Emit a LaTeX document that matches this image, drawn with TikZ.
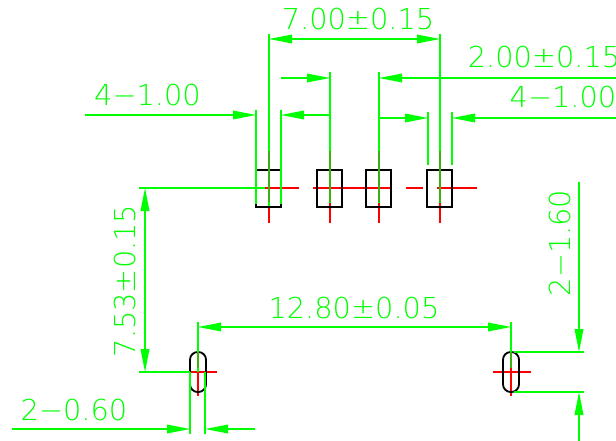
\documentclass[tikz,border=0pt]{standalone}
\usepackage{fontspec}
\setmainfont{DejaVu Sans ExtraLight}
\usetikzlibrary{arrows.meta}
\definecolor{dimgreen}{RGB}{0,255,0}
\definecolor{overgreen}{RGB}{60,176,16}
\definecolor{axisred}{RGB}{255,0,0}
\tikzset{
	dimline/.style={dimgreen,line width=0.42mm},
	extline/.style={dimgreen,line width=0.33mm},
	dimtip/.style={dimline,-{Triangle[length=6.9mm,width=2.6mm]}},
	dimboth/.style={dimline,{Triangle[length=6.9mm,width=2.6mm]}-{Triangle[length=6.9mm,width=2.6mm]}},
	axisline/.style={axisred,line width=0.33mm},
	padline/.style={black,line width=0.55mm},
	dimtext/.style={dimgreen,anchor=base,inner sep=0pt,font=\fontsize{24.6pt}{28pt}\selectfont},
}
\begin{document}
\begin{tikzpicture}[x=0.3mm,y=-0.3mm]
	\path[use as bounding box,clip] (0,0) rectangle (616,441);
	% Centre lines
	\foreach \xc in {269,330,379,440}
		\draw[axisline] (\xc,188) -- (\xc,223);
	\draw[axisline] (265,188) -- (299,188);
	\draw[axisline] (313,188) -- (392,188);
	\draw[axisline] (406,188) -- (423,188);
	\draw[axisline] (437,188) -- (477,188);
	\draw[axisline] (180,372) -- (217,372);
	\draw[axisline] (198,372) -- (198,396);
	\draw[axisline] (493,372) -- (531,372);
	\draw[axisline] (511,368) -- (511,396);
	% Pads
	\foreach \xc in {269,330,379,440}
		\draw[padline] (\xc-13,170) rectangle (\xc+12,207);
	% Slots
	\foreach \xc in {198,511}
		\draw[padline,rounded corners=2.3mm] (\xc-8,352) rectangle (\xc+8,392);
	% Extension lines
	\draw[dimline] (269,34) -- (269,206);
	\draw[dimline] (440,34) -- (440,203);
	\draw[dimline] (330,72) -- (330,203);
	\draw[dimline] (379,72) -- (379,203);
	\foreach \xc in {269,330,379,440}
		\draw[overgreen,line width=0.42mm] (\xc,151) -- (\xc,202);
	\draw[extline] (256,110) -- (256,204);
	\draw[extline] (281,110) -- (281,204);
	\draw[extline] (428,112) -- (428,165);
	\draw[extline] (452,112) -- (452,165);
	\draw[dimline] (139,188) -- (265,188);
	\draw[dimline] (139,372) -- (190,372);
	\draw[dimline] (198,322) -- (198,372);
	\draw[dimline] (511,322) -- (511,368);
	\foreach \xc in {198,511}
		\draw[overgreen,line width=0.42mm] (\xc,352) -- (\xc,368);
	\draw[extline] (190,372) -- (190,434);
	\draw[extline] (205,372) -- (205,434);
	\draw[dimline] (514,352) -- (584,352);
	\draw[dimline] (514,392) -- (584,392);
	% 7.00 pitch
	\draw[dimboth] (269,39) -- (440,39);
	\node[dimtext] (pitchtotal) at (358,29.5) {7.00±0.15};
	% 2.00 pitch
	\draw[dimtip] (281,78) -- (330,78);
	\draw[dimtip] (616,78) -- (379,78);
	\node[dimtext] (pitchinner) at (544,68) {2.00±0.15};
	% Pad widths
	\draw[dimtip] (85,115) -- (256,115);
	\draw[dimtip] (330,115) -- (281,115);
	\node[dimtext] (padleft) at (147.5,106) {4−1.00};
	\draw[dimtip] (379,118) -- (428,118);
	\draw[dimtip] (616,118) -- (452,118);
	\node[dimtext] (padright) at (563,108) {4−1.00};
	% 7.53 offset
	\draw[dimboth] (145,188) -- (145,372);
	\node[dimtext,rotate=90] (offset) at (135,281) {7.53±0.15};
	% 12.80 slot spacing
	\draw[dimboth] (198,327) -- (511,327);
	\node[dimtext] (slotpitch) at (354,318) {12.80±0.05};
	% Slot length
	\draw[dimtip] (579,182) -- (579,352);
	\draw[dimtip] (579,441) -- (579,392);
	\node[dimtext,rotate=90] (slotlength) at (570,243) {2−1.60};
	% Slot width
	\draw[dimtip] (12,429) -- (190,429);
	\draw[dimtip] (255,429) -- (205,429);
	\node[dimtext] (slotwidth) at (74,420) {2−0.60};
\end{tikzpicture}
\end{document}
